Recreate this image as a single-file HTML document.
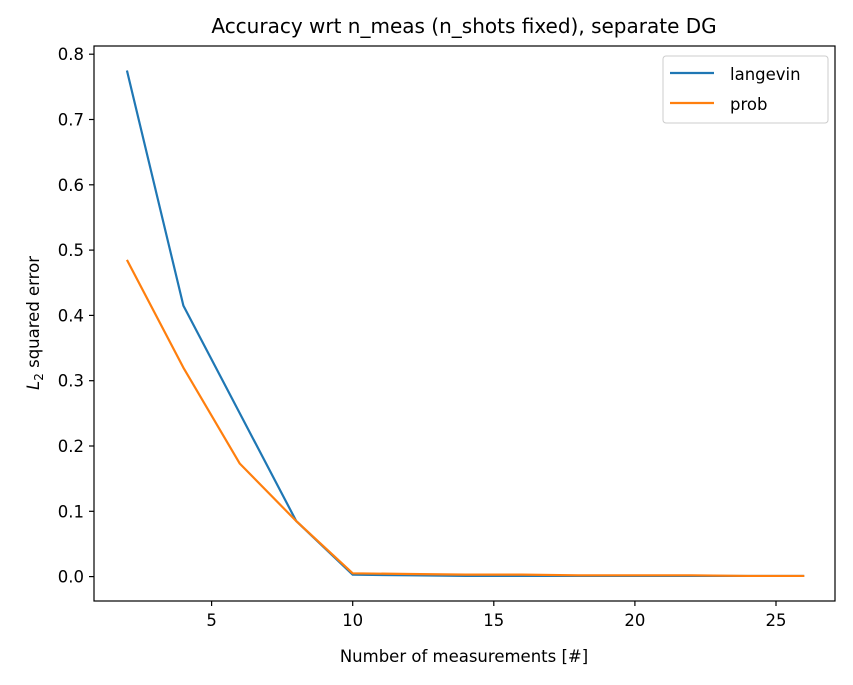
<!DOCTYPE html>
<html><head><meta charset="utf-8"><style>
body{margin:0;background:#fff;}
svg text{font-family:"DejaVu Sans","Liberation Sans",sans-serif;fill:#000;}
</style></head><body>
<svg id="chart" width="853" height="680" xmlns="http://www.w3.org/2000/svg">
<text x="464" y="33" font-size="20" text-anchor="middle">Accuracy wrt n_meas (n_shots fixed), separate DG</text>
<g id="plot"></g>
<rect x="94" y="46" width="741" height="555" fill="none" stroke="#000" stroke-width="1.2"/>
<text x="464" y="662" font-size="16.5" text-anchor="middle">Number of measurements [#]</text>
<text transform="translate(39,323) rotate(-90)" font-size="16.5" text-anchor="middle"><tspan font-style="italic">L</tspan><tspan font-size="12" dy="4">2</tspan><tspan dy="-4"> squared error</tspan></text>
<g>
<rect x="663" y="56" width="165" height="67" rx="3" fill="#fff" stroke="#ccc" stroke-width="1"/>
<line x1="670" y1="73" x2="714" y2="73" stroke="#1f77b4" stroke-width="2.2"/>
<text x="730" y="80" font-size="16.5">langevin</text>
<line x1="670" y1="103" x2="714" y2="103" stroke="#ff7f0e" stroke-width="2.2"/>
<text x="730" y="110" font-size="16.5">prob</text>
</g>
</svg>
<script>
const xValues=[2,4,6,8,10,12,14,16,18,20,22,24,26];
const langevin=[0.775,0.415,0.25,0.085,0.003,0.002,0.001,0.001,0.001,0.001,0.001,0.001,0.001];
const prob=[0.485,0.32,0.173,0.085,0.005,0.004,0.003,0.003,0.002,0.002,0.002,0.001,0.001];
const xTicks=[5,10,15,20,25];
const yTicks=[0,0.1,0.2,0.3,0.4,0.5,0.6,0.7,0.8];
const NS="http://www.w3.org/2000/svg";
const xs=v=>352.7+(v-10)*28.22;
const ys=v=>576.6-v*653;
const g=document.getElementById('plot');
function mk(t,a){const e=document.createElementNS(NS,t);for(const k in a)e.setAttribute(k,a[k]);g.appendChild(e);return e;}
xTicks.forEach(t=>{
 const l=mk('line',{x1:xs(t),x2:xs(t),y1:601,y2:606,stroke:'#000','stroke-width':1.2});
 
 
 const tx=mk('text',{x:xs(t),y:626,'font-size':16.5,'text-anchor':'middle'});tx.textContent=t;
 
 
});
yTicks.forEach(t=>{
 const l=mk('line',{x1:89,x2:94,y1:ys(t),y2:ys(t),stroke:'#000','stroke-width':1.2});
 
 
 const tx=mk('text',{x:84,y:ys(t)+6,'font-size':16.5,'text-anchor':'end'});tx.textContent=t.toFixed(1);
 
 
});
[[langevin,'#1f77b4','langevin-line'],[prob,'#ff7f0e','prob-line']].forEach(([d,c,n])=>{
 const p=mk('polyline',{points:d.map((v,i)=>xs(xValues[i])+','+ys(v)).join(' '),fill:'none',stroke:c,'stroke-width':2.2,'stroke-linejoin':'round'});
 
 
});
</script>
</body></html>
